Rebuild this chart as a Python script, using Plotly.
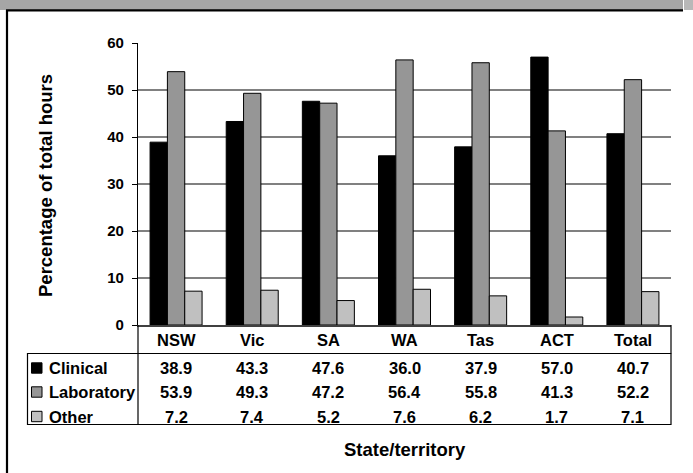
import plotly.graph_objects as go

categories = ["NSW", "Vic", "SA", "WA", "Tas", "ACT", "Total"]
series_names = ["Clinical", "Laboratory", "Other"]
clinical = [38.9, 43.3, 47.6, 36.0, 37.9, 57.0, 40.7]
laboratory = [53.9, 49.3, 47.2, 56.4, 55.8, 41.3, 52.2]
other = [7.2, 7.4, 5.2, 7.6, 6.2, 1.7, 7.1]
y_ticks = [0, 10, 20, 30, 40, 50, 60]
y_title = "Percentage of total hours"
x_title = "State/territory"

series_values = [clinical, laboratory, other]
colors = ["#000000", "#969696", "#C0C0C0"]

W, H = 693, 473
L, R, T, B = 138, 671, 43, 325
FONT = "Liberation Sans"


def px_x(px):
    return (px - L) / (R - L)


def px_y(py):
    return (B - py) / (B - T)


fig = go.Figure()
for name, vals, col in zip(series_names, series_values, colors):
    fig.add_trace(go.Bar(
        x=categories, y=vals, name=name,
        marker=dict(color=col, line=dict(color="#000000", width=1)),
        showlegend=False,
    ))

shapes = []
annotations = []

# header bar and frame
shapes.append(dict(type="rect", xref="paper", yref="paper",
                   x0=px_x(0), x1=px_x(683), y0=px_y(0), y1=px_y(10),
                   fillcolor="#A6A6A6", line=dict(width=0), layer="below"))
shapes.append(dict(type="rect", xref="paper", yref="paper",
                   x0=px_x(684), x1=px_x(693), y0=px_y(0), y1=px_y(10),
                   fillcolor="#B8B8B8", line=dict(width=0), layer="below"))
shapes.append(dict(type="line", xref="paper", yref="paper",
                   x0=px_x(6), x1=px_x(683), y0=px_y(10.3), y1=px_y(10.3),
                   line=dict(color="#000000", width=2.2)))
shapes.append(dict(type="line", xref="paper", yref="paper",
                   x0=px_x(7), x1=px_x(7), y0=px_y(10), y1=px_y(473),
                   line=dict(color="#000000", width=2.2)))

# data table
tbl_top, tbl_bot, tbl_left = 353.5, 424.5, 27.5
shapes.append(dict(type="rect", xref="paper", yref="paper",
                   x0=px_x(tbl_left), x1=px_x(R), y0=px_y(tbl_top), y1=px_y(tbl_bot),
                   line=dict(color="#000000", width=1.2)))
shapes.append(dict(type="line", xref="paper", yref="paper",
                   x0=px_x(L), x1=px_x(L), y0=px_y(B), y1=px_y(tbl_bot),
                   line=dict(color="#000000", width=1.2)))
shapes.append(dict(type="line", xref="paper", yref="paper",
                   x0=px_x(R), x1=px_x(R), y0=px_y(B), y1=px_y(tbl_top),
                   line=dict(color="#000000", width=1.2)))

cat_y = 339.5
for c in categories:
    annotations.append(dict(xref="x", yref="paper", x=c, y=px_y(cat_y),
                            text=c, showarrow=False, xanchor="center", yanchor="middle",
                            font=dict(family=FONT, size=16.5, color="#000000", weight="bold")))

row_y = [368, 392, 416.5]
for i, (name, vals, col) in enumerate(zip(series_names, series_values, colors)):
    yc = row_y[i]
    shapes.append(dict(type="rect", xref="paper", yref="paper",
                       x0=px_x(31.5), x1=px_x(42), y0=px_y(yc - 5.2), y1=px_y(yc + 5.2),
                       fillcolor=col, line=dict(color="#000000", width=1)))
    annotations.append(dict(xref="paper", yref="paper", x=px_x(46.5), y=px_y(yc),
                            text=name, showarrow=False, xanchor="left", yanchor="middle",
                            font=dict(family=FONT, size=16.5, color="#000000", weight="bold")))
    for c, v in zip(categories, vals):
        annotations.append(dict(xref="x", yref="paper", x=c, y=px_y(yc),
                                text=f"{v:.1f}", showarrow=False, xanchor="center",
                                yanchor="middle",
                                font=dict(family=FONT, size=16.5, color="#000000", weight="bold")))

annotations.append(dict(xref="paper", yref="paper", x=px_x(404.5), y=px_y(449),
                        text=x_title, showarrow=False, xanchor="center", yanchor="middle",
                        font=dict(family=FONT, size=18.5, color="#000000", weight="bold")))
annotations.append(dict(xref="paper", yref="paper", x=px_x(45), y=px_y(186),
                        text=y_title, showarrow=False, textangle=-90,
                        xanchor="center", yanchor="middle",
                        font=dict(family=FONT, size=18.5, color="#000000", weight="bold")))

fig.update_layout(
    width=W, height=H,
    margin=dict(l=L, r=W - R, t=T, b=H - B, pad=0),
    paper_bgcolor="#FFFFFF", plot_bgcolor="#FFFFFF",
    barmode="group", bargap=0.317, bargroupgap=0,
    shapes=shapes, annotations=annotations,
    font=dict(family=FONT, color="#000000"),
    hovermode=False,
    xaxis=dict(showgrid=False, showline=True, linecolor="#404040", linewidth=1.5,
               ticks="", showticklabels=False),
    yaxis=dict(range=[0, 60], tickvals=y_ticks, showgrid=True, gridcolor="#808080",
               gridwidth=1.8, showline=True, linecolor="#000000", linewidth=1.2,
               ticks="outside", ticklen=5, tickcolor="#000000", zeroline=False,
               ticklabelstandoff=5,
               tickfont=dict(family=FONT, size=15, color="#000000", weight="bold")),
)

fig.write_html("out.html", config={"displayModeBar": False},
               post_script="document.body.style.margin='0px';")
